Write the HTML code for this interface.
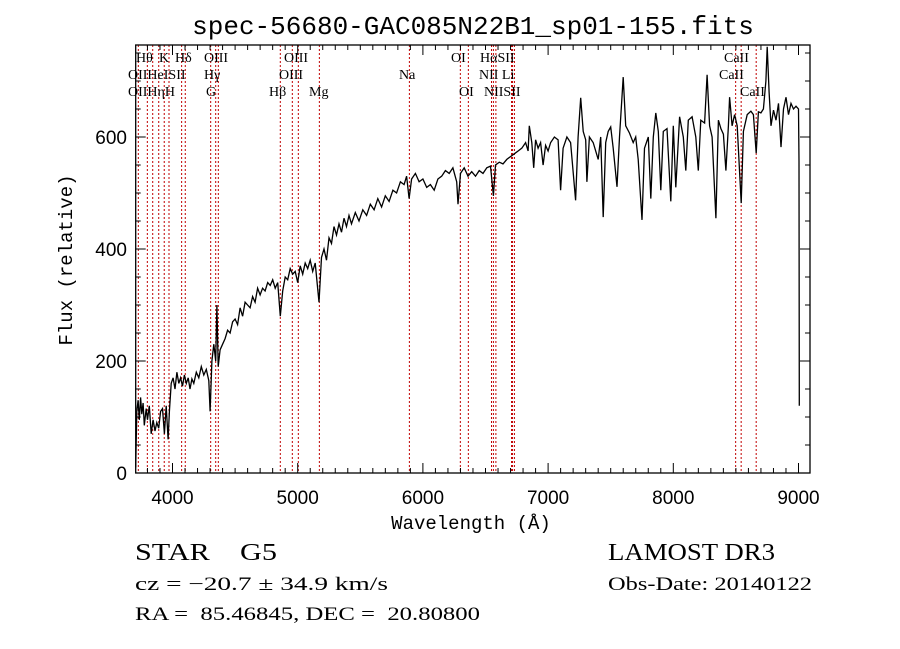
<!DOCTYPE html>
<html><head><meta charset="utf-8"><style>
html,body{margin:0;padding:0;background:#fff;width:900px;height:649px;overflow:hidden}
svg{display:block}
.t{font-family:"Liberation Serif",serif;fill:#000}
.m{font-family:"Liberation Mono",monospace;fill:#000}
.s{font-family:"Liberation Sans",sans-serif;fill:#000}
</style></head><body>
<svg id="c" width="900" height="649" xmlns="http://www.w3.org/2000/svg">
<text class="m" x="473" y="34" font-size="26" text-anchor="middle">spec-56680-GAC085N22B1_sp01-155.fits</text>
<text class="m" x="471" y="529" font-size="19" text-anchor="middle">Wavelength (Å)</text>
<text class="m" x="0" y="0" font-size="19" text-anchor="middle" transform="translate(72,260) rotate(-90)">Flux (relative)</text>
<g id="lines"></g>
<g id="labels"></g>
<g id="ticks"></g>
<path id="spec" fill="none" stroke="#000" stroke-width="1.3"/>
<rect x="135.7" y="45" width="674.3" height="428" fill="none" stroke="#000" stroke-width="1.3"/>
<text class="t" x="135" y="560" font-size="24" textLength="142" lengthAdjust="spacingAndGlyphs" xml:space="preserve">STAR    G5</text>
<text class="t" x="135" y="590" font-size="19" textLength="253" lengthAdjust="spacingAndGlyphs">cz = −20.7 ± 34.9 km/s</text>
<text class="t" x="135" y="620" font-size="19" textLength="345" lengthAdjust="spacingAndGlyphs" xml:space="preserve">RA =  85.46845, DEC =  20.80800</text>
<text class="t" x="608" y="560" font-size="24" textLength="167" lengthAdjust="spacingAndGlyphs">LAMOST DR3</text>
<text class="t" x="608" y="590" font-size="19" textLength="204" lengthAdjust="spacingAndGlyphs">Obs-Date: 20140122</text>
</svg>
<script>
const waves=[3706,3715,3725,3735,3745,3755,3765,3775,3790,3800,3815,3830,3845,3860,3875,3890,3905,3920,3935,3950,3965,3975,3990,4005,4020,4035,4050,4065,4080,4095,4110,4125,4140,4155,4170,4190,4210,4230,4250,4270,4290,4300,4315,4330,4345,4355,4365,4380,4400,4420,4440,4460,4480,4500,4520,4540,4560,4580,4600,4620,4640,4660,4680,4700,4720,4740,4760,4780,4800,4820,4840,4861,4880,4900,4920,4940,4960,4980,5000,5020,5040,5060,5080,5100,5120,5140,5170,5190,5210,5230,5250,5270,5290,5310,5330,5350,5370,5390,5410,5430,5460,5490,5520,5550,5580,5610,5640,5670,5700,5730,5760,5790,5820,5850,5870,5890,5910,5940,5970,6000,6030,6060,6090,6120,6150,6180,6210,6240,6270,6280,6300,6330,6360,6390,6420,6450,6480,6510,6540,6563,6580,6610,6640,6670,6700,6730,6760,6790,6820,6840,6850,6870,6885,6900,6920,6940,6960,6980,7000,7020,7050,7080,7100,7120,7150,7180,7220,7240,7260,7280,7300,7310,7330,7360,7400,7420,7440,7460,7480,7500,7520,7550,7570,7600,7620,7650,7680,7700,7720,7750,7770,7800,7820,7840,7860,7880,7900,7920,7950,7980,8000,8020,8050,8080,8100,8120,8150,8180,8200,8220,8250,8270,8290,8310,8340,8360,8380,8400,8420,8440,8450,8470,8490,8510,8542,8560,8590,8620,8640,8662,8680,8700,8720,8740,8750,8765,8780,8800,8820,8840,8860,8880,8900,8920,8940,8960,8980,9000,9004,9006];
const flux=[10,110,130,95,135,105,125,85,115,95,120,70,95,75,90,80,110,115,70,120,60,110,160,170,150,180,160,170,155,175,160,170,150,168,160,180,170,190,175,185,165,110,200,230,200,300,190,220,230,240,255,250,270,275,265,295,280,305,300,295,315,305,330,318,330,325,340,335,345,330,340,280,325,350,345,365,355,360,340,370,355,375,365,380,360,375,305,385,400,380,420,410,440,425,445,430,455,440,460,445,465,450,470,460,480,470,490,475,495,485,505,500,520,515,530,490,525,535,520,525,510,515,505,525,530,540,535,545,520,480,535,545,530,538,530,540,535,545,548,495,550,555,552,560,565,570,575,580,590,575,620,590,545,595,580,590,550,585,575,590,600,595,505,580,600,590,487,600,670,610,595,520,600,590,560,600,457,590,610,618,580,511,600,707,620,607,590,600,560,452,580,600,490,600,643,610,505,610,615,485,620,510,636,600,540,630,636,600,540,630,625,711,620,600,455,630,615,605,540,620,671,620,640,620,482,610,640,646,640,571,645,643,650,700,761,680,620,648,630,660,582,650,671,640,660,650,655,650,557,120];
const lineWaves=[3727,3799,3842,3890,3934,3972,4073,4102,4305,4345,4366,4861,4957,5005,5173,5892,6299,6363,6548,6563,6583,6708,6716,6731,8498,8542,8662];
const xTickLabels=[4000,5000,6000,7000,8000,9000];
const yTickLabels=[0,200,400,600];
const NS='http://www.w3.org/2000/svg';
const X=w=>172.5+(w-4000)*0.1252;
const Y=f=>473-f*0.56;
const L=135.7,R=810,T=45,B=473;
function mk(tag,attrs,parent){const e=document.createElementNS(NS,tag);for(const k in attrs)e.setAttribute(k,attrs[k]);parent.appendChild(e);return e;}
let d='';
for(let i=0;i<waves.length;i++){d+=(i?'L':'M')+X(waves[i]).toFixed(1)+' '+Math.max(T,Y(flux[i])).toFixed(1);}
document.getElementById('spec').setAttribute('d',d);
const lg=document.getElementById('lines');
lineWaves.forEach(w=>{const e=mk('line',{x1:X(w),x2:X(w),y1:T,y2:B,stroke:'#c00000','stroke-width':1,'stroke-dasharray':'2,2'},lg);

});
const tg=document.getElementById('ticks');
for(let w=3800;w<=9000;w+=100){const x=X(w);const len=(w%1000===0)?10:5;
mk('line',{x1:x,x2:x,y1:B,y2:B-len,stroke:'#000','stroke-width':1},tg);
mk('line',{x1:x,x2:x,y1:T,y2:T+len,stroke:'#000','stroke-width':1},tg);}
for(let f=0;f<=750;f+=50){const y=Y(f);const len=(f%200===0)?10:5;
mk('line',{x1:L,x2:L+len,y1:y,y2:y,stroke:'#000','stroke-width':1},tg);
mk('line',{x1:R,x2:R-len,y1:y,y2:y,stroke:'#000','stroke-width':1},tg);}
const svg=document.getElementById('c');
xTickLabels.forEach(v=>{const t=mk('text',{x:X(v),y:504,'font-size':19,'text-anchor':'middle',class:'s'},svg);t.textContent=v;

});
yTickLabels.forEach(v=>{const t=mk('text',{x:127,y:Y(v)+7,'font-size':19,'text-anchor':'end',class:'s'},svg);t.textContent=v;

});
const labs=[['Hθ',136,62],['K',159,62],['Hδ',175,62],['OIII',204,62],['OIII',284,62],['OI',451,62],['HαSII',480,62],['CaII',724,62],
['OIIHeISII',128,79],['Hγ',204,79],['OIII',279,79],['Na',399,79],['NII Li',479,79],['CaII',719,79],
['OIIHηH',128,96],['G',206,96],['Hβ',269,96],['Mg',309,96],['OI',459,96],['NIISII',484,96],['CaII',740,96]];
const lb=document.getElementById('labels');
labs.forEach(a=>{const t=mk('text',{x:a[1],y:a[2],'font-size':14,class:'t'},lb);t.textContent=a[0];

});
</script>
</body></html>
